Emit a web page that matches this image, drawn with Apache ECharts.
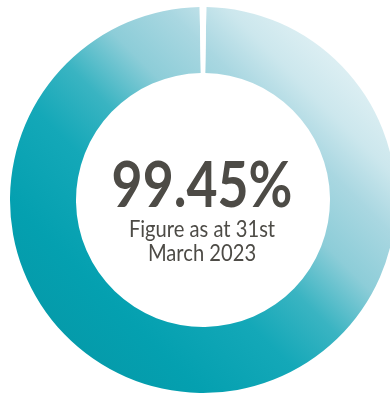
<!DOCTYPE html>
<html>
<head>
<meta charset="utf-8">
<script src="https://cdn.jsdelivr.net/npm/echarts@6/dist/echarts.min.js"></script>
<style>
html,body{margin:0;padding:0;background:#fff;}
#chart{width:390px;height:396px;}
</style>
</head>
<body>
<div id="chart"></div>
<script>
// Data
const categories = ['Achieved', 'Remaining'];
const values = [99.45, 0.55];
const headline = '99.45%';
const captionLines = ['Figure as at 31st', 'March 2023'];

const chart = echarts.init(document.getElementById('chart'), null, {renderer: 'canvas'});

const ringGradient = new echarts.graphic.LinearGradient(1, 0, 0, 1, [
  {offset: 0, color: '#f3f9fb'},
  {offset: 0.1, color: '#e6f3f6'},
  {offset: 0.22, color: '#cce7ed'},
  {offset: 0.3, color: '#a9d7e1'},
  {offset: 0.4, color: '#8dcdd8'},
  {offset: 0.5, color: '#3ab4c2'},
  {offset: 0.6, color: '#14a8b8'},
  {offset: 0.75, color: '#04a0b0'},
  {offset: 0.9, color: '#0599a8'},
  {offset: 1, color: '#0898a8'}
]);

const textColor = '#4d4b46';

chart.setOption({
  animation: false,
  graphic: [{
    type: 'group',
    x: 202,
    y: 0,
    silent: true,
    children: [
      {
        type: 'text', x: 0, y: 186.5, scaleX: 0.85,
        style: {text: headline, fill: textColor, font: 'bold 63px Lato', textAlign: 'center', textVerticalAlign: 'middle'}
      },
      {
        type: 'text', x: 0, y: 229.5, scaleX: 0.84,
        style: {text: captionLines[0], fill: textColor, font: '24px Lato', textAlign: 'center', textVerticalAlign: 'middle'}
      },
      {
        type: 'text', x: 0, y: 253.5, scaleX: 0.84,
        style: {text: captionLines[1], fill: textColor, font: '24px Lato', textAlign: 'center', textVerticalAlign: 'middle'}
      }
    ]
  }],
  series: [{
    type: 'pie',
    center: [203, 200],
    radius: [127, 193],
    startAngle: 90 - values[1] * 3.6 / 2,
    clockwise: true,
    silent: true,
    label: {show: false},
    labelLine: {show: false},
    emphasis: {disabled: true},
    data: [
      {name: categories[0], value: values[0], itemStyle: {color: ringGradient}},
      {name: categories[1], value: values[1], itemStyle: {color: '#ffffff'}}
    ]
  }]
});
</script>
</body>
</html>
